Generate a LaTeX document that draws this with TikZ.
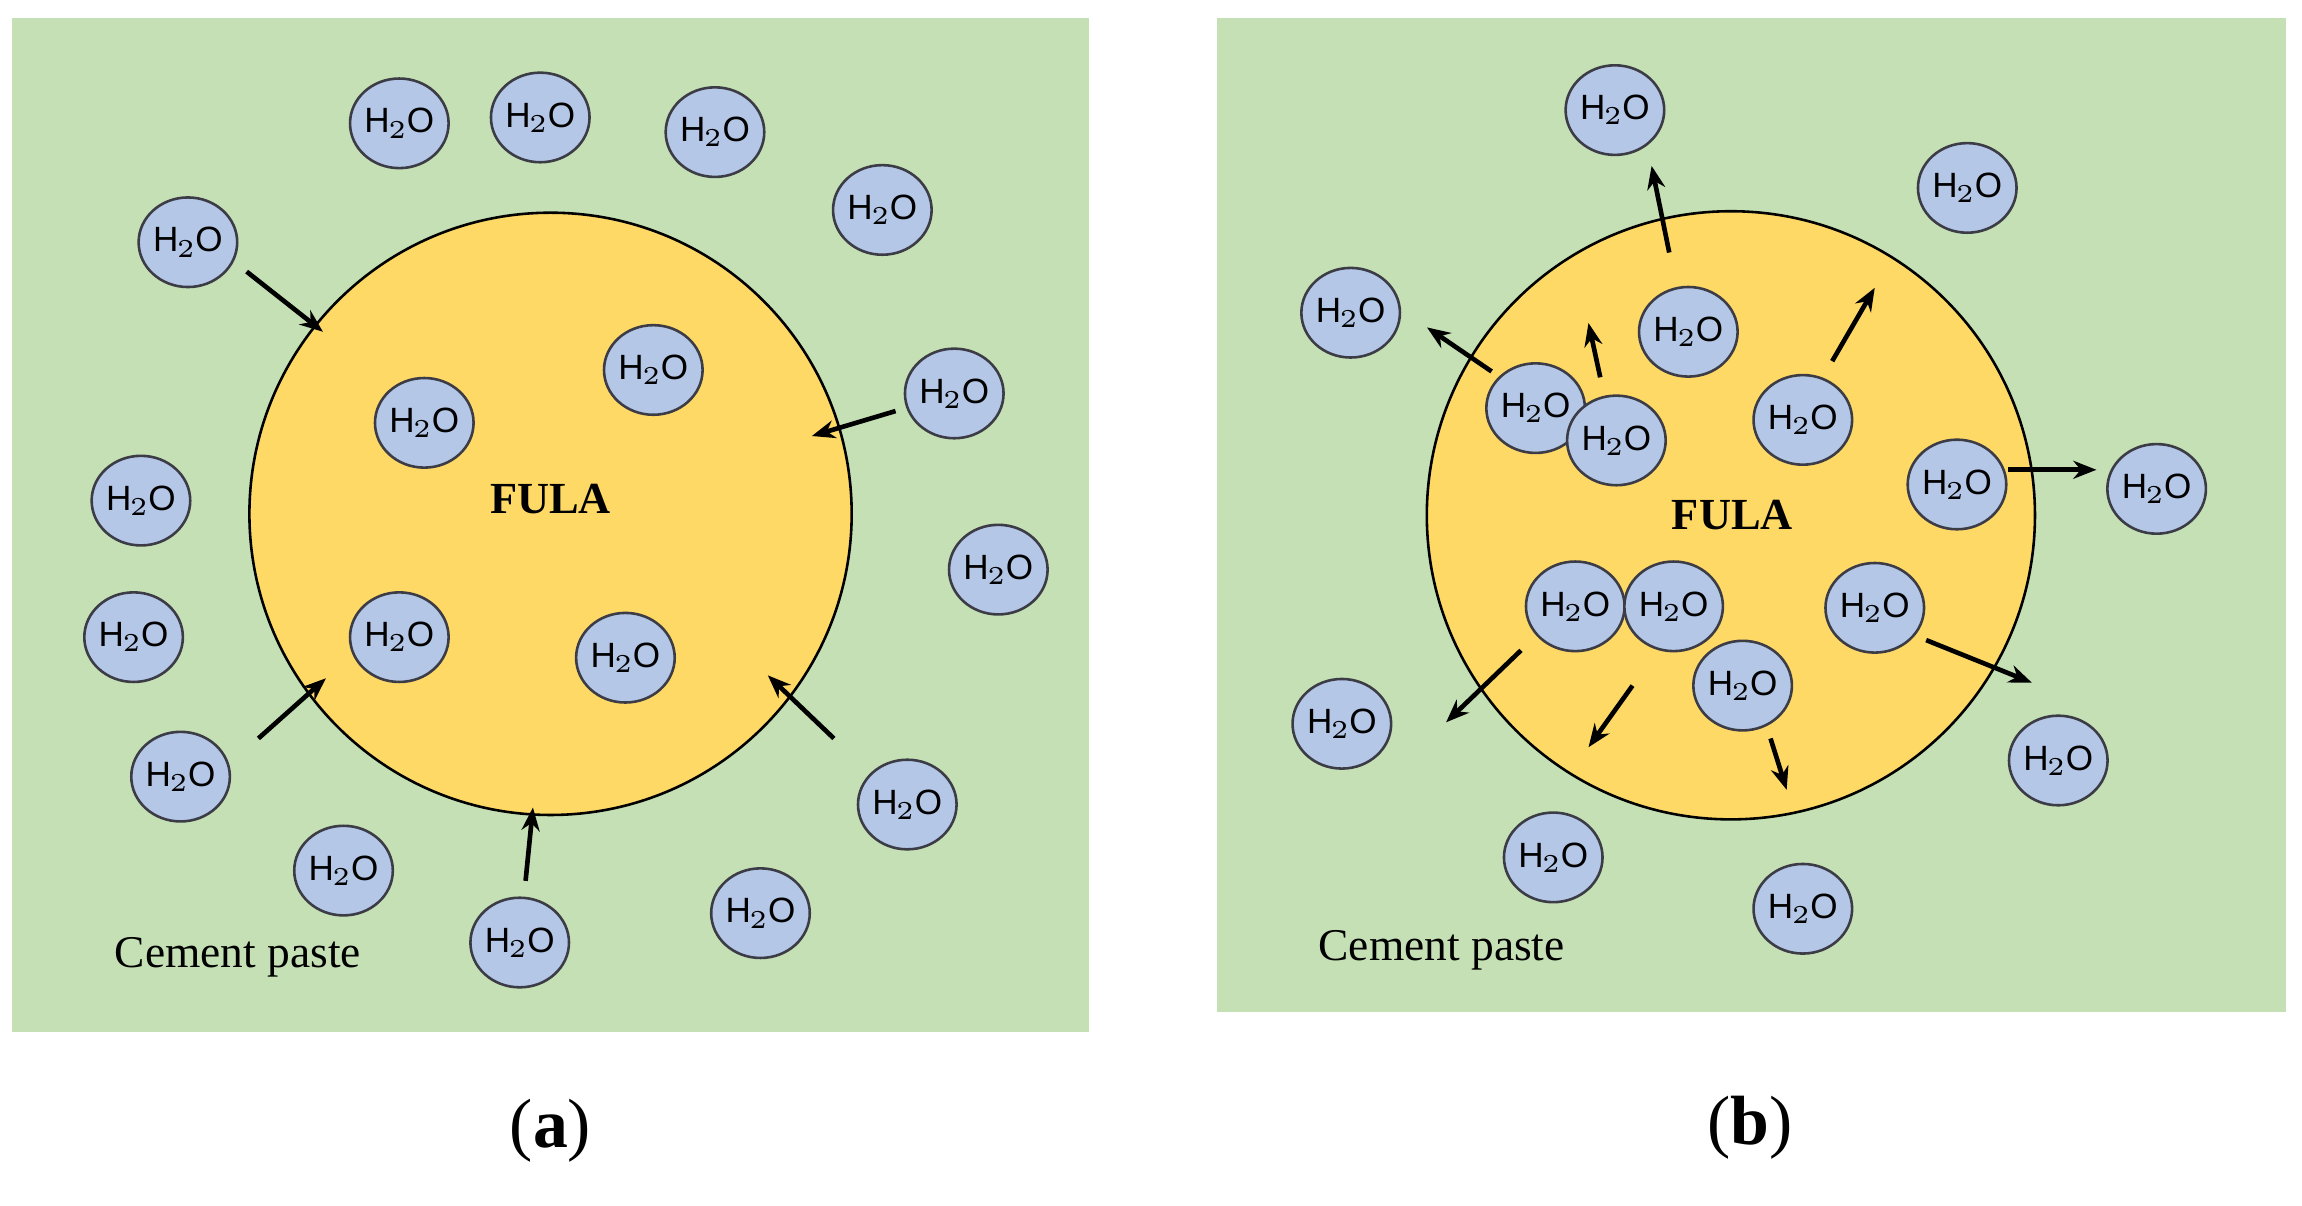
\documentclass[tikz,border=0pt]{standalone}
\usepackage{fontspec}
\setmainfont{Liberation Serif}
\newfontfamily\hsans{Liberation Sans}
\usetikzlibrary{shapes.geometric,arrows.meta}
\begin{document}
\begin{tikzpicture}[x=0.01cm,y=-0.01cm,
 bg/.style={fill={rgb,255:red,197;green,224;blue,180}, draw=none},
 core/.style={circle, fill={rgb,255:red,255;green,217;blue,102}, draw=black, line width=0.5pt, inner sep=0pt},
 mol/.style={ellipse, minimum width=0.55cm, minimum height=0.61cm, inner sep=0pt, fill={rgb,255:red,180;green,199;blue,231}, draw={rgb,255:red,60;green,60;blue,70}, line width=0.5pt, font=\hsans\fontsize{6.8}{8}\selectfont},
 arr/.style={-{Stealth[length=4.5pt,width=3.5pt]}, line width=0.9pt},
 lab/.style={font=\fontsize{8.8}{10}\selectfont},
 fula/.style={font=\bfseries\fontsize{8.6}{10}\selectfont},
 pcap/.style={font=\fontsize{13.5}{15}\selectfont}]
\useasboundingbox (0,0) rectangle (1568,821);
% panel a
\fill[bg] (8,12) rectangle (742,703);
\node[core, minimum size=4.1cm] (ca) at (375,350) {};
\node[fula] (fa) at (375,340) {FULA};
\foreach \x/\y [count=\i] in {272/84,368/80,487/90,601/143,128/165,650/268,96/341,680/388,91/434,123/529,618/548,234/593,518/622,354/642,445/252,289/288,272/434,426/448}
  \node[mol] (ma\i) at (\x,\y) {H\kern-0.3pt$_2$\kern-0.3ptO};
\foreach \a/\b/\c/\d [count=\i] in {168/185/220/226,610/280/553/297,176/503/222/462,568/503/523/460,358/600/363/550}{
  \coordinate (as\i) at (\a,\b); \coordinate (ae\i) at (\c,\d);
  \draw[arr] (as\i) -- (ae\i);}
\node[lab] (cpa) at (162,652) {Cement paste};
\node[pcap] (la) at (375,770) {(\textbf{a})};
% panel b
\fill[bg] (829,12) rectangle (1557,689);
\node[core, minimum size=4.14cm] (cb) at (1179,351) {};
\node[fula] (fb) at (1180,351) {FULA};
\foreach \x/\y [count=\i] in {1100/75,1340/128,920/213,1469/333,914/493,1402/518,1058/584,1228/619,1150/226,1046/278,1101/300,1228/286,1333/330,1073/413,1140/413,1277/414,1187/467}
  \node[mol] (mb\i) at (\x,\y) {H\kern-0.3pt$_2$\kern-0.3ptO};
\foreach \a/\b/\c/\d [count=\i] in {1137/172/1125/113,1016/253/972/223,1090/257/1082/220,1248/246/1277/196,1368/320/1428/320,1312/436/1384/465,1036/443/985/492,1112/467/1082/509,1206/503/1217/538}{
  \coordinate (bs\i) at (\a,\b); \coordinate (be\i) at (\c,\d);
  \draw[arr] (bs\i) -- (be\i);}
\node[lab] (cpb) at (982,647) {Cement paste};
\node[pcap] (lb) at (1192,768) {(\textbf{b})};
\end{tikzpicture}
\end{document}
